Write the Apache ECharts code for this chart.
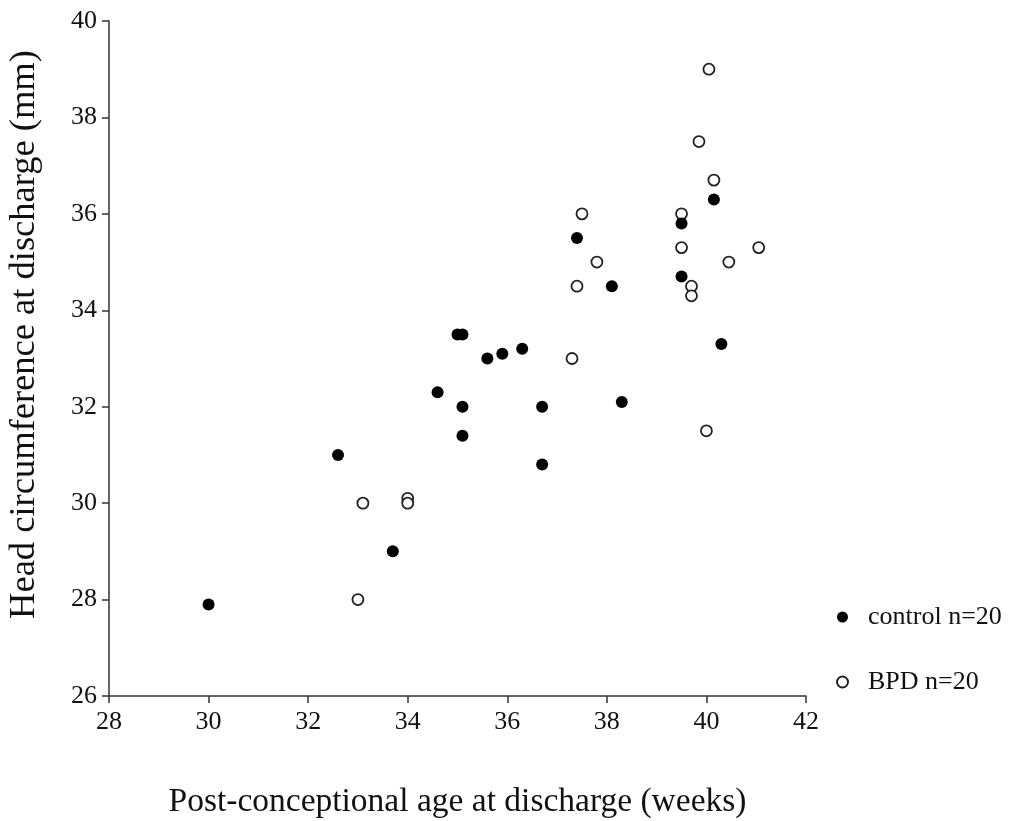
<!DOCTYPE html>
<html>
<head>
<meta charset="utf-8">
<script src="https://cdn.jsdelivr.net/npm/echarts@6/dist/echarts.min.js"></script>
<style>
html,body{margin:0;padding:0;background:#fff;}
#chart{width:1023px;height:821px;}
</style>
</head>
<body>
<div id="chart"></div>
<script>
// Data
var controlAge = [30.0, 32.6, 33.7, 34.6, 35.0, 35.1, 35.1, 35.1, 35.6, 35.9, 36.3, 36.7, 36.7, 37.4, 38.1, 38.3, 39.5, 39.5, 40.15, 40.3];
var controlHC  = [27.9, 31.0, 29.0, 32.3, 33.5, 33.5, 32.0, 31.4, 33.0, 33.1, 33.2, 32.0, 30.8, 35.5, 34.5, 32.1, 35.8, 34.7, 36.3, 33.3];
var bpdAge = [33.0, 33.1, 34.0, 34.0, 37.3, 37.4, 37.5, 37.8, 39.5, 39.5, 39.7, 39.7, 39.85, 40.05, 40.15, 40.0, 40.45, 41.05];
var bpdHC  = [28.0, 30.0, 30.1, 30.0, 33.0, 34.5, 36.0, 35.0, 36.0, 35.3, 34.5, 34.3, 37.5, 39.0, 36.7, 31.5, 35.0, 35.3];
var seriesNames = ['control n=20', 'BPD n=20'];
var xTitle = 'Post-conceptional age at discharge (weeks)';
var yTitle = 'Head circumference at discharge (mm)';

function pairs(xs, ys) { return xs.map(function (x, i) { return [x, ys[i]]; }); }

var font = '"Liberation Serif", "Times New Roman", serif';
var chart = echarts.init(document.getElementById('chart'), null, {renderer: 'canvas'});
chart.setOption({
  animation: false,
  backgroundColor: '#fff',
  grid: {left: 109, right: 217, top: 21, bottom: 125, containLabel: false, outerBoundsMode: 'none'},
  legend: {
    data: seriesNames,
    orient: 'vertical',
    left: 831, top: 599,
    itemWidth: 11, itemHeight: 11,
    itemGap: 39,
    textStyle: {fontFamily: font, fontSize: 26, color: '#111', padding: [0, 0, 0, 15]}
  },
  xAxis: {
    type: 'value', min: 28, max: 42, interval: 2,
    name: xTitle, nameLocation: 'middle', nameGap: 89,
    nameTextStyle: {fontFamily: font, fontSize: 33.5, color: '#111'},
    axisLine: {lineStyle: {color: '#333', width: 1.5}},
    axisTick: {show: true, inside: false, length: 7, lineStyle: {color: '#333', width: 1.5}},
    axisLabel: {fontFamily: font, fontSize: 26, color: '#111', margin: 13},
    splitLine: {show: false}
  },
  yAxis: {
    type: 'value', min: 26, max: 40, interval: 2,
    name: yTitle, nameLocation: 'middle', nameGap: 66, nameRotate: 90,
    nameTextStyle: {fontFamily: font, fontSize: 36.5, color: '#111', padding: [0, 0, 0, 48]},
    axisLine: {show: true, lineStyle: {color: '#333', width: 1.5}},
    axisTick: {show: true, inside: false, length: 7, lineStyle: {color: '#333', width: 1.5}},
    axisLabel: {fontFamily: font, fontSize: 26, color: '#111', margin: 12},
    splitLine: {show: false}
  },
  series: [
    {
      name: seriesNames[1], type: 'scatter', symbol: 'circle', symbolSize: 11,
      itemStyle: {color: '#fff', borderColor: '#222', borderWidth: 1.8, opacity: 1},
      data: pairs(bpdAge, bpdHC), z: 2
    },
    {
      name: seriesNames[0], type: 'scatter', symbol: 'circle', symbolSize: 12,
      itemStyle: {color: '#000', borderColor: '#000', borderWidth: 0, opacity: 1},
      data: pairs(controlAge, controlHC), z: 3
    }
  ]
});
</script>
</body>
</html>
